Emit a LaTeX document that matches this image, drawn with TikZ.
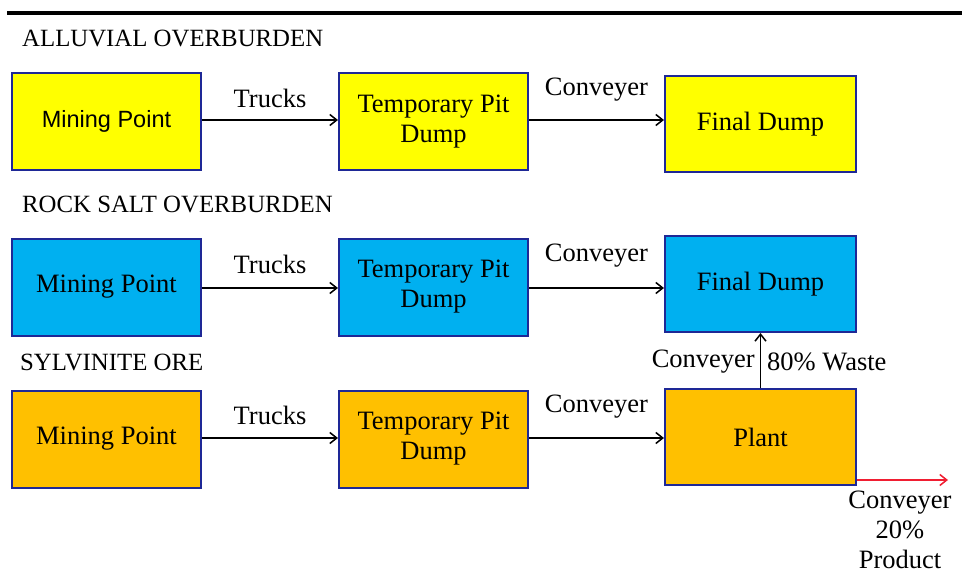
\documentclass[tikz,border=0pt]{standalone}
\usepackage{fontspec}
\setmainfont{Liberation Serif}
\newfontfamily\boxsans{Liberation Sans}
\usetikzlibrary{arrows.meta}
\definecolor{ylw}{RGB}{255,255,0}
\definecolor{skyb}{RGB}{0,176,240}
\definecolor{amber}{RGB}{255,192,0}
\definecolor{edge}{RGB}{30,40,150}
\definecolor{redarrow}{RGB}{240,30,50}
\tikzset{
  boxnode/.style={draw=edge, line width=2pt, minimum width=189pt, minimum height=97pt, inner sep=0pt, align=center, font=\fontsize{26.5}{30}\selectfont},
  flow/.style={line width=1.7pt, -{Straight Barb[length=7pt,width=11pt,line width=1.5pt]}},
  lbl/.style={font=\fontsize{26.5}{30}\selectfont, inner sep=0pt},
  ttl/.style={font=\fontsize{24.8}{28}\selectfont, anchor=west, inner sep=0pt}
}
\begin{document}
\begin{tikzpicture}[x=1pt,y=-1pt]
\useasboundingbox (0,0) rectangle (962,583);
\draw[line width=4pt] (7,13) -- (962,13);
% titles
\node[ttl] (t1) at (22,38) {ALLUVIAL OVERBURDEN};
\node[ttl] (t2) at (22,204) {ROCK SALT OVERBURDEN};
\node[ttl] (t3) at (20,362) {SYLVINITE ORE};
% row 1
\node[boxnode, fill=ylw, font=\boxsans\fontsize{23.5}{28}\selectfont] (m1) at (106.5,121.5) {Mining Point};
\node[boxnode, fill=ylw] (p1) at (433.5,121.5) {Temporary Pit\\Dump};
\node[boxnode, fill=ylw, minimum width=191pt, minimum height=96pt] (f1) at (760.5,124) {Final Dump};
% row 2
\node[boxnode, fill=skyb] (m2) at (106.5,287) {Mining Point};
\node[boxnode, fill=skyb] (p2) at (433.5,287) {Temporary Pit\\Dump};
\node[boxnode, fill=skyb, minimum width=191pt, minimum height=96pt] (f2) at (760.5,284) {Final Dump};
% row 3
\node[boxnode, fill=amber] (m3) at (106.5,439) {Mining Point};
\node[boxnode, fill=amber] (p3) at (433.5,439) {Temporary Pit\\Dump};
\node[boxnode, fill=amber, minimum width=191pt, minimum height=96pt] (pl) at (760.5,437) {Plant};
% arrows row 1
\draw[flow] (m1.east |- 0,120) -- node[lbl, midway, yshift=22pt] (tr1) {Trucks} (p1.west |- 0,120);
\draw[flow] (p1.east |- 0,120) -- node[lbl, midway, yshift=30pt] (cv1) {Conveyer} (f1.west |- 0,120);
% arrows row 2
\draw[flow] (m2.east |- 0,288) -- node[lbl, midway, yshift=24pt] (tr2) {Trucks} (p2.west |- 0,288);
\draw[flow] (p2.east |- 0,288) -- node[lbl, midway, yshift=32pt] (cv2) {Conveyer} (f2.west |- 0,288);
% arrows row 3
\draw[flow] (m3.east |- 0,438) -- node[lbl, midway, yshift=23pt] (tr3) {Trucks} (p3.west |- 0,438);
\draw[flow] (p3.east |- 0,438) -- node[lbl, midway, yshift=31pt] (cv3) {Conveyer} (pl.west |- 0,438);
% waste arrow
\draw[flow] (pl.north) -- (f2.south);
\node[lbl, anchor=east] (cvw) at (755,362) {Conveyer};
\node[lbl, anchor=west] (ws) at (767,362) {80\% Waste};
% product arrow
\coordinate (pend) at (948,480);
\draw[flow, draw=redarrow] (pl.south east |- 0,480) -- (pend);
\node[lbl, align=center, font=\fontsize{26.5}{30}\selectfont] (prod) at (900,530) {Conveyer\\20\%\\Product};
\end{tikzpicture}
\end{document}
